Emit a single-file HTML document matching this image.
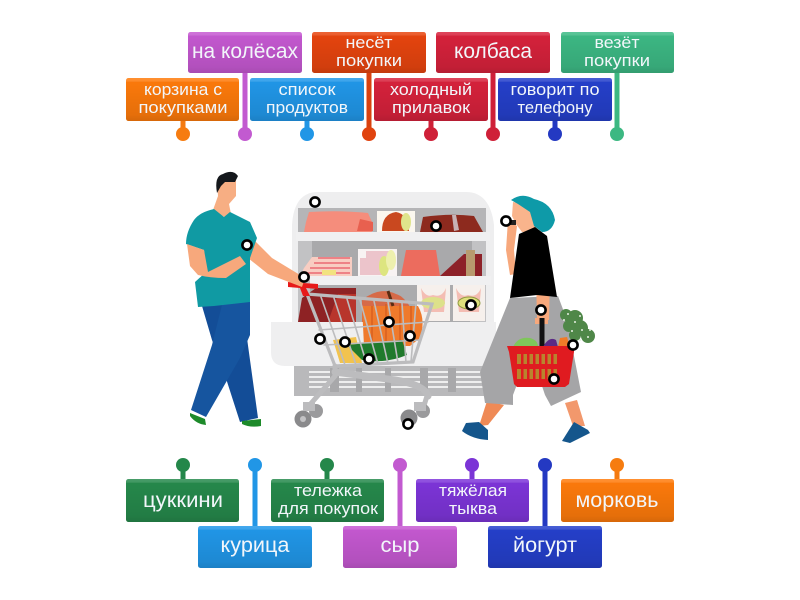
<!DOCTYPE html>
<html><head><meta charset="utf-8"><style>
html,body{margin:0;padding:0;background:#fff;width:800px;height:600px;overflow:hidden}
svg{display:block}
.l text{font-family:"Liberation Sans","DejaVu Sans",sans-serif;fill:#f2f6fa;text-anchor:middle;font-size:17px}
.l text.b{font-size:21px}
</style></head><body>
<svg width="800" height="600" viewBox="0 0 800 600" xmlns="http://www.w3.org/2000/svg">
<defs>
<linearGradient id="s" x1="0" y1="0" x2="0" y2="1"><stop offset="0" stop-color="#fff" stop-opacity=".16"/><stop offset=".08" stop-color="#fff" stop-opacity=".12"/><stop offset=".1" stop-color="#000" stop-opacity=".02"/><stop offset=".85" stop-color="#000" stop-opacity=".1"/><stop offset="1" stop-color="#000" stop-opacity=".16"/></linearGradient>
<g id="h"><circle r="4.6" fill="#fff" stroke="#000" stroke-width="2.6"/></g>
</defs>

<!-- fridge -->
<path d="M292 340V225Q294 192 318 192H466Q490 192 494 225V340Z" fill="#eeeeef"/>
<path d="M298 208H486V232H298Z" fill="#b5b5b7"/>
<path d="M298 241H486V330H298Z" fill="#c2c2c4"/>
<path d="M312 241H472V276H312Z" fill="#a9a9ab"/>
<path d="M310 285H470V325H310Z" fill="#ababad"/>
<path d="M296 232H490V241H296Z" fill="#f0f0f1"/>
<path d="M310 276H491V285H310Z" fill="#f0f0f1"/>
<path d="M294 360H495V396H294Z" fill="#b9b9bb"/>
<path d="M271 322H496V366H285Q271 366 271 352Z" fill="#efeff0"/>
<g fill="#eee"><rect x="309" y="371" width="180" height="2"/><rect x="309" y="376" width="180" height="2"/><rect x="309" y="381" width="180" height="2"/><rect x="309" y="386" width="180" height="2"/></g>
<g fill="#a8a8aa"><rect x="330" y="368" width="9" height="24"/><rect x="356" y="368" width="6" height="24"/><rect x="385" y="368" width="6" height="24"/><rect x="420" y="368" width="8" height="24"/><rect x="448" y="368" width="8" height="24"/></g>
<!-- shelf 1 -->
<path d="M309 212Q340 210 368 213L372 222L372 232H304L306 222Z" fill="#f58d7c"/>
<path d="M360 219L373 222V231H357Z" fill="#e8604f"/>
<rect x="377" y="211" width="38" height="21" fill="#fbf7ef"/>
<path d="M382 231Q382 214 396 212Q408 214 409 231Z" fill="#c9481f"/>
<ellipse cx="406" cy="222" rx="5" ry="9" fill="#dfe48c"/>
<path d="M423 217Q450 213 474 216L483 232H420Z" fill="#8d2a1e"/>
<path d="M452 215L456 215L459 230L454 231Z" fill="#c7b3b5"/>
<!-- shelf 2 -->
<path d="M312 257H352V276H300L304 268Z" fill="#f8cdc2"/>
<path d="M318 258H350M314 263H350M310 268H350M306 273H350" stroke="#ea6a72" stroke-width="1.6"/>
<rect x="322" y="270" width="14" height="5" fill="#f2e27f"/>
<rect x="358" y="249" width="39" height="27" fill="#f8f3f3"/>
<path d="M360 258H384V275H360Z" fill="#ecc4cb"/>
<path d="M366 251H392V258H366Z" fill="#ecc4cb"/>
<ellipse cx="384" cy="266" rx="5" ry="10" fill="#dde580"/>
<ellipse cx="391" cy="260" rx="5" ry="10" fill="#eef0ae"/>
<path d="M406 250H436L440 276H401Z" fill="#ec6c5e"/>
<path d="M464 254H482V276H440Z" fill="#8d2128"/>
<rect x="466" y="250" width="9" height="26" fill="#b89a6e"/>
<!-- shelf 3 -->
<rect x="417" y="285" width="33" height="36" fill="#f6f0ec"/>
<rect x="453" y="285" width="32" height="36" fill="#f6f0ec"/>
<path d="M421 288Q426 298 433 295Q442 298 446 288L444 312H424Z" fill="#f4bdb3"/>
<path d="M456 288Q461 298 468 295Q477 298 481 288L479 312H459Z" fill="#f4bdb3"/>
<ellipse cx="433" cy="303" rx="12" ry="6" fill="#dde18a"/>
<ellipse cx="469" cy="303" rx="11" ry="6" fill="#dfe07c" stroke="#8f9a40"/>
<path d="M298 322L302 298L316 288H356V322Z" fill="#8e2224"/>
<path d="M338 294H356V322H328Z" fill="#b8352c"/>
<path d="M362 300Q380 286 396 294Q404 296 412 310V322H362Z" fill="#d66a48"/>

<!-- cart contents -->
<path d="M362 306L418 306Q426 320 420 338L410 346H364Z" fill="#ef7a2c"/>
<g stroke="#d95f1e" stroke-width="1.5"><path d="M372 306V342M386 304V342M400 304V342M411 306V340"/></g>
<path d="M388 291L393 306" stroke="#5b2b12" stroke-width="3"/>
<path d="M333 340L356 337L362 363H340Z" fill="#f2c34e"/>
<path d="M347 345Q375 342 402 340L407 355Q385 364 362 360Z" fill="#207a2c"/>

<!-- cart -->
<g fill="none" stroke="#bcbcbe" stroke-linecap="round">
<path d="M307 294L432 304L413 362L335 366Z" stroke-width="3.2"/>
<path d="M319 330L428 322M324 345L421 340" stroke-width="1.6"/>
<path d="M321 297L345 365M334 298L356 365M347 299L367 365M360 300L378 364M374 301L388 364M388 302L398 363M402 303L406 363M416 303L411 362" stroke-width="1.6"/>
<path d="M335 372L395 380Q425 385 428 396" stroke-width="7"/>
<path d="M335 366V376L307 408" stroke-width="5"/>
<path d="M427 396L422 412" stroke-width="5"/>
</g>
<circle cx="316" cy="411" r="7" fill="#9a9a9c"/><circle cx="303" cy="419" r="8.5" fill="#8a8a8c"/><circle cx="303" cy="419" r="3" fill="#c3c3c5"/>
<circle cx="423" cy="411" r="7" fill="#9a9a9c"/><circle cx="409" cy="418" r="8.5" fill="#8a8a8c"/>
<rect x="303" y="402" width="12" height="9" fill="#bcbcbe"/><rect x="414" y="402" width="12" height="9" fill="#bcbcbe"/>
<path d="M288 282L318 284V289L306 288L310 296H303L300 288L288 287Z" fill="#e71a1a"/>

<!-- man -->
<path d="M202 306L242 302L258 418L240 422L222 366L212 340Z" fill="#134d97"/>
<path d="M222 305L250 301L250 335L240 358L206 417L191 410L212 345Z" fill="#16559f"/>
<path d="M190 413L205 419L206 425Q196 424 190 416Z" fill="#1d8a2a"/>
<path d="M242 421L261 419V426Q250 428 242 424Z" fill="#1d8a2a"/>
<path d="M217 180L236 180L236 196L229 204L231 214L226 218L213 210L218 196Z" fill="#f7ae83"/>
<path d="M217 193Q214 176 223 174Q233 169 238 176L235 182H225L221 186Z" fill="#15181c"/>
<path d="M250 236L272 258L305 278L302 287L268 274L248 258Z" fill="#f7a87c"/>
<path d="M214 209Q200 212 194 220Q186 232 186 244L204 250L206 272L195 282L198 307L214 306L250 302L250 258L257 238L250 222L230 212L224 217Z" fill="#109aa3"/>
<path d="M187 244L204 250L208 272L240 256L246 264L226 278Q210 278 198 275L190 266Z" fill="#f7a87c"/>

<!-- woman -->
<path d="M487 401L504 405L488 425L479 426Z" fill="#ef8a56"/>
<path d="M565 403L577 400L585 426L573 426Z" fill="#f2986c"/>
<path d="M510 298L558 296L567 320L581 392L551 406L545 395L530 350L513 395V405L485 403L480 372Z" fill="#a5a5a7"/>
<path d="M466 423L479 422L488 430L488 440Q472 439 462 431Z" fill="#15568c"/>
<path d="M574 422L588 430L590 433L570 443L562 441Z" fill="#15568c"/>
<path d="M508 220L517 226L514 250L516 274L510 275L506 250Z" fill="#f7a87c"/>
<path d="M513 202L530 205L540 225L535 232L522 232L516 224L512 216Z" fill="#f9b48c"/>
<path d="M511 200Q522 192 534 199Q552 203 555 220Q552 232 542 232L534 226L530 212L518 204Z" fill="#0e9aa8"/>
<rect x="509" y="220" width="7" height="5" fill="#222"/>
<path d="M536 275L550 275L549 320H537Z" fill="#f7a87c"/>
<path d="M510 298L519 234L535 227L547 236L557 297L537 295Z" fill="#000"/>
<path d="M535 318L548 318L548 324H535Z" fill="#f7a87c"/>

<!-- herb -->
<g fill="#4f8748"><circle cx="566" cy="315" r="6"/><circle cx="575" cy="318" r="8"/><circle cx="580" cy="328" r="8"/><circle cx="588" cy="336" r="7"/><circle cx="575" cy="335" r="6"/><circle cx="569" cy="326" r="6"/></g>
<g fill="#e6efe2"><circle cx="568" cy="314" r="1"/><circle cx="575" cy="322" r="1"/><circle cx="582" cy="330" r="1"/><circle cx="572" cy="331" r="1"/><circle cx="588" cy="337" r="1"/><circle cx="580" cy="340" r="1"/><circle cx="564" cy="320" r="1"/><circle cx="580" cy="316" r="1"/><circle cx="590" cy="330" r="1"/></g>
<!-- basket -->
<rect x="539.5" y="318" width="5" height="30" fill="#111"/>
<path d="M513 347Q518 336 530 338Q538 340 538 347Z" fill="#7fc65a"/>
<path d="M543 347Q549 336 556 340L558 347Z" fill="#5b2a84"/>
<path d="M558 347L560 338L567 337L570 347Z" fill="#f07b28"/>
<path d="M507 346H574V352L569 384L565 387H517L514 384L509 352Z" fill="#e01b20"/>
<g fill="#b9842e"><rect x="517" y="354" width="43" height="10"/><rect x="517" y="369" width="43" height="10"/></g>
<g fill="#e01b20"><rect x="521" y="354" width="2.5" height="26"/><rect x="527" y="354" width="2.5" height="26"/><rect x="533" y="354" width="2.5" height="26"/><rect x="539" y="354" width="2.5" height="26"/><rect x="545" y="354" width="2.5" height="26"/><rect x="551" y="354" width="2.5" height="26"/><rect x="557" y="354" width="10" height="26"/></g>

<!-- hotspots -->
<use href="#h" x="315" y="202"/><use href="#h" x="247" y="245"/><use href="#h" x="304" y="277"/><use href="#h" x="436" y="226"/><use href="#h" x="506" y="221"/><use href="#h" x="541" y="310"/><use href="#h" x="573" y="345"/><use href="#h" x="554" y="379"/><use href="#h" x="471" y="305"/><use href="#h" x="389" y="322"/><use href="#h" x="410" y="336"/><use href="#h" x="320" y="339"/><use href="#h" x="345" y="342"/><use href="#h" x="369" y="359"/><use href="#h" x="408" y="424"/>

<!-- connectors -->
<g stroke-width="5">
<path d="M183 120V134" stroke="#f47a10"/><path d="M245 72V134" stroke="#c25ad0"/><path d="M307 120V134" stroke="#2196e6"/><path d="M369 72V134" stroke="#d9410f"/><path d="M431 120V134" stroke="#cf2038"/><path d="M493 72V134" stroke="#cf2038"/><path d="M555 120V134" stroke="#2439c2"/><path d="M617 72V134" stroke="#3cb882"/>
<path d="M183 465V480" stroke="#24874a"/><path d="M255 465V527" stroke="#2196e6"/><path d="M327 465V480" stroke="#24874a"/><path d="M400 465V527" stroke="#c25ad0"/><path d="M472 465V480" stroke="#7b34d6"/><path d="M545 465V527" stroke="#2439c2"/><path d="M617 465V480" stroke="#f47a10"/>
</g>
<circle cx="183" cy="134" r="7" fill="#f67c10"/><circle cx="245" cy="134" r="7" fill="#c25ad0"/><circle cx="307" cy="134" r="7" fill="#2196e6"/><circle cx="369" cy="134" r="7" fill="#e0430f"/><circle cx="431" cy="134" r="7" fill="#cf2038"/><circle cx="493" cy="134" r="7" fill="#cf2038"/><circle cx="555" cy="134" r="7" fill="#2439c2"/><circle cx="617" cy="134" r="7" fill="#3cb882"/>
<circle cx="183" cy="465" r="7" fill="#24874a"/><circle cx="255" cy="465" r="7" fill="#2196e6"/><circle cx="327" cy="465" r="7" fill="#24874a"/><circle cx="400" cy="465" r="7" fill="#c25ad0"/><circle cx="472" cy="465" r="7" fill="#7b34d6"/><circle cx="545" cy="465" r="7" fill="#2439c2"/><circle cx="617" cy="465" r="7" fill="#f67c10"/>

<!-- labels -->
<g class="l">
<rect x="126" y="78" width="113" height="43" rx="2.5" fill="#ff7b0b"/><rect x="126" y="78" width="113" height="43" rx="2.5" fill="url(#s)"/>
<text x="183" y="95" textLength="78" lengthAdjust="spacingAndGlyphs">корзина с</text><text x="183" y="113" textLength="89" lengthAdjust="spacingAndGlyphs">покупками</text>
<rect x="250" y="78" width="114" height="43" rx="2.5" fill="#2198ea"/><rect x="250" y="78" width="114" height="43" rx="2.5" fill="url(#s)"/>
<text x="307" y="95" textLength="57" lengthAdjust="spacingAndGlyphs">список</text><text x="307" y="113" textLength="82" lengthAdjust="spacingAndGlyphs">продуктов</text>
<rect x="374" y="78" width="114" height="43" rx="2.5" fill="#d8223c"/><rect x="374" y="78" width="114" height="43" rx="2.5" fill="url(#s)"/>
<text x="431" y="95" textLength="82" lengthAdjust="spacingAndGlyphs">холодный</text><text x="431" y="113" textLength="78" lengthAdjust="spacingAndGlyphs">прилавок</text>
<rect x="498" y="78" width="114" height="43" rx="2.5" fill="#2540cc"/><rect x="498" y="78" width="114" height="43" rx="2.5" fill="url(#s)"/>
<text x="555" y="95" textLength="89" lengthAdjust="spacingAndGlyphs">говорит по</text><text x="555" y="113" textLength="75" lengthAdjust="spacingAndGlyphs">телефону</text>

<rect x="188" y="32" width="114" height="41" rx="2.5" fill="#c659d2"/><rect x="188" y="32" width="114" height="41" rx="2.5" fill="url(#s)"/>
<text class="b" x="245" y="58" textLength="106" lengthAdjust="spacingAndGlyphs">на колёсах</text>
<rect x="312" y="32" width="114" height="41" rx="2.5" fill="#e8450f"/><rect x="312" y="32" width="114" height="41" rx="2.5" fill="url(#s)"/>
<text x="369" y="48" textLength="47" lengthAdjust="spacingAndGlyphs">несёт</text><text x="369" y="66" textLength="66" lengthAdjust="spacingAndGlyphs">покупки</text>
<rect x="436" y="32" width="114" height="41" rx="2.5" fill="#d8223c"/><rect x="436" y="32" width="114" height="41" rx="2.5" fill="url(#s)"/>
<text class="b" x="493" y="58" textLength="78" lengthAdjust="spacingAndGlyphs">колбаса</text>
<rect x="561" y="32" width="113" height="41" rx="2.5" fill="#3dba85"/><rect x="561" y="32" width="113" height="41" rx="2.5" fill="url(#s)"/>
<text x="617" y="48" textLength="45" lengthAdjust="spacingAndGlyphs">везёт</text><text x="617" y="66" textLength="66" lengthAdjust="spacingAndGlyphs">покупки</text>

<rect x="126" y="479" width="113" height="43" rx="2.5" fill="#268a4c"/><rect x="126" y="479" width="113" height="43" rx="2.5" fill="url(#s)"/>
<text class="b" x="183" y="507" textLength="80" lengthAdjust="spacingAndGlyphs">цуккини</text>
<rect x="271" y="479" width="113" height="43" rx="2.5" fill="#268a4c"/><rect x="271" y="479" width="113" height="43" rx="2.5" fill="url(#s)"/>
<text x="328" y="496" textLength="68" lengthAdjust="spacingAndGlyphs">тележка</text><text x="328" y="514" textLength="100" lengthAdjust="spacingAndGlyphs">для покупок</text>
<rect x="416" y="479" width="113" height="43" rx="2.5" fill="#7e35da"/><rect x="416" y="479" width="113" height="43" rx="2.5" fill="url(#s)"/>
<text x="473" y="496" textLength="68" lengthAdjust="spacingAndGlyphs">тяжёлая</text><text x="473" y="514" textLength="48" lengthAdjust="spacingAndGlyphs">тыква</text>
<rect x="561" y="479" width="113" height="43" rx="2.5" fill="#ff7b0b"/><rect x="561" y="479" width="113" height="43" rx="2.5" fill="url(#s)"/>
<text class="b" x="617" y="507" textLength="83" lengthAdjust="spacingAndGlyphs">морковь</text>

<rect x="198" y="526" width="114" height="42" rx="2.5" fill="#2198ea"/><rect x="198" y="526" width="114" height="42" rx="2.5" fill="url(#s)"/>
<text class="b" x="255" y="552" textLength="69" lengthAdjust="spacingAndGlyphs">курица</text>
<rect x="343" y="526" width="114" height="42" rx="2.5" fill="#c659d2"/><rect x="343" y="526" width="114" height="42" rx="2.5" fill="url(#s)"/>
<text class="b" x="400" y="552" textLength="39" lengthAdjust="spacingAndGlyphs">сыр</text>
<rect x="488" y="526" width="114" height="42" rx="2.5" fill="#2540cc"/><rect x="488" y="526" width="114" height="42" rx="2.5" fill="url(#s)"/>
<text class="b" x="545" y="552" textLength="64" lengthAdjust="spacingAndGlyphs">йогурт</text>
</g>
</svg>
</body></html>
